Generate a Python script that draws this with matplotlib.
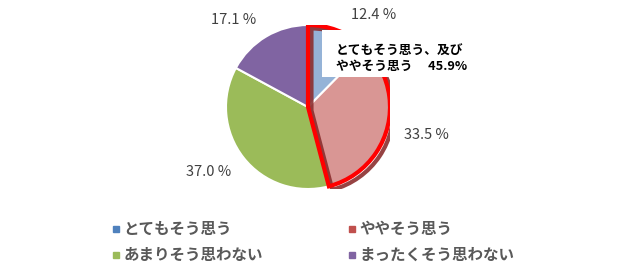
import matplotlib.pyplot as plt
import matplotlib.patheffects as pe
from matplotlib.patches import Wedge, Rectangle
from matplotlib.lines import Line2D

plt.rcParams['font.family'] = ['Noto Sans CJK JP', 'DejaVu Sans']

categories = ["とてもそう思う", "ややそう思う", "あまりそう思わない", "まったくそう思わない"]
values = [12.4, 33.5, 37.0, 17.1]
pie_colors = ["#95B3D7", "#D99694", "#9BBB59", "#8064A2"]
legend_colors = ["#4F81BD", "#C0504D", "#9BBB59", "#8064A2"]
value_labels = ["12.4 %", "33.5 %", "37.0 %", "17.1 %"]
label_pos = [(0.80, 1.12), (1.44, -0.34), (-1.21, -0.79), (-0.91, 1.06)]
combined = 45.9

fig = plt.figure(figsize=(6.4, 2.71), dpi=100)
ax = fig.add_axes([(308 - 82) / 640, (271 - 107 - 82) / 271, 164 / 640, 164 / 271])

ax.pie(values, colors=pie_colors, startangle=90, counterclock=False, radius=1.0,
       wedgeprops=dict(edgecolor="white", linewidth=1.5))

# red outline around the first two slices
w = Wedge((0, 0), 1.0, 90 - combined * 3.6, 90, fill=False, edgecolor="#FF0000",
          linewidth=3, joinstyle="miter", zorder=5)
w.set_path_effects([pe.SimpleLineShadow(offset=(2.5, -2.5), shadow_color="#8B2E2E", alpha=0.9),
                    pe.Normal()])
ax.add_patch(w)

for lab, (x, y) in zip(value_labels, label_pos):
    ax.text(x, y, lab, ha="center", va="center", fontsize=10.5, color="#404040")

# callout box
ax.add_patch(Rectangle((0.17, 0.366), 1.75, 0.573, facecolor="white", edgecolor="none",
                       zorder=6, clip_on=False))
ax.text(0.341, 0.683, "とてもそう思う、及び", fontsize=9.2, fontweight="bold", va="center",
        ha="left", color="black", zorder=7, clip_on=False)
ax.text(0.341, 0.50, "ややそう思う\u3000 %.1f%%" % combined, fontsize=9.2, fontweight="bold",
        va="center", ha="left", color="black", zorder=7, clip_on=False)

ax.set_xlim(-1, 1)
ax.set_ylim(-1, 1)

# legend fills row by row in the reference
order = [0, 2, 1, 3]
handles = [Line2D([], [], marker="s", markersize=4, linestyle="none", color=legend_colors[i]) for i in order]
labels = [categories[i] for i in order]
fig.legend(handles, labels, ncol=2, loc="upper left", bbox_to_anchor=(97 / 640, 1 - 207 / 271),
           frameon=False, prop=dict(size=11.2, weight="bold"), labelcolor="#595959",
           handlelength=0.6, handletextpad=0.2, columnspacing=5.4, labelspacing=0.65)

fig.savefig("out.png", dpi=100)
